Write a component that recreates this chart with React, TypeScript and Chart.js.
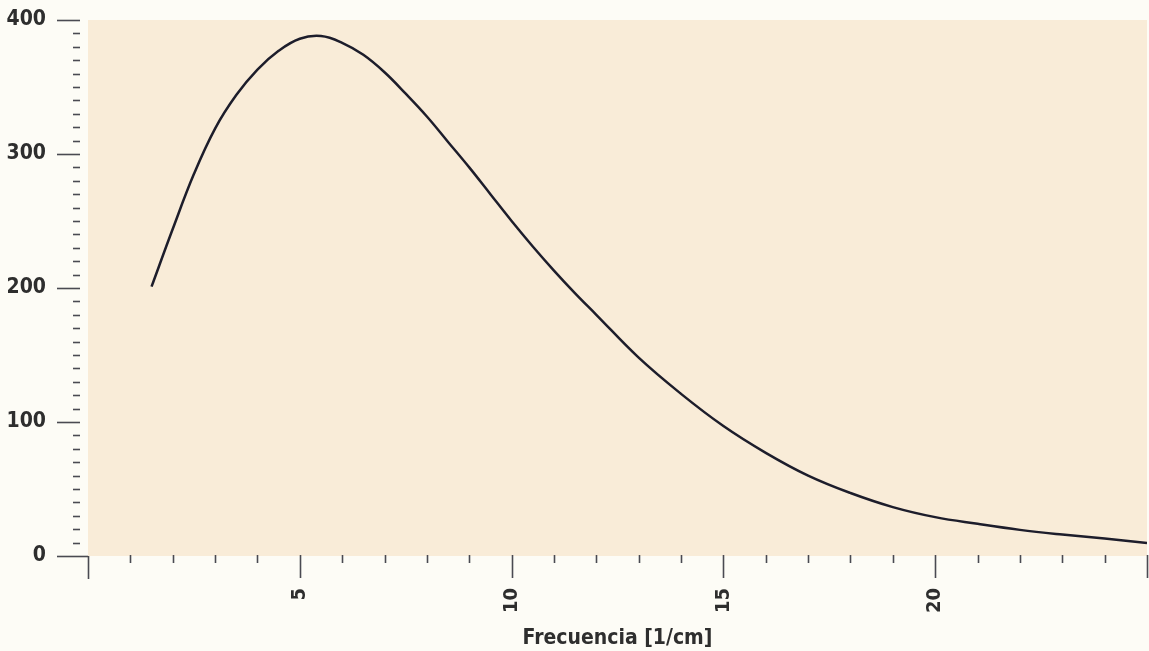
import React, { useEffect, useRef } from "react";
import { Chart, registerables } from "chart.js";

Chart.register(...registerables);

const frequencies = [1.5, 2, 2.5, 3, 3.5, 4, 4.5, 5, 5.5, 6, 6.5, 7, 7.5, 8, 8.5, 9, 9.5, 10, 10.5, 11, 11.5, 12, 13, 14, 15, 16, 17, 18, 19, 20, 21, 22, 23, 24, 25];
const amplitudes = [201, 244, 285, 319, 344, 363, 377, 386, 388, 383, 374, 361, 345, 328, 309, 290, 270, 250, 231, 213, 196, 180, 148, 121, 97, 77, 60, 47, 36.5, 29, 24, 19.5, 16, 13, 9.7];
const xLabelTicks = [5, 10, 15, 20];
const yLabelTicks = [0, 100, 200, 300, 400];
const xTitle = "Frecuencia [1/cm]";

const FONT = '"DejaVu Sans Condensed", "Liberation Sans Narrow", "Roboto", sans-serif';

const decorPlugin = {
  id: "decor",
  beforeDraw(chart: any) {
    const { ctx, chartArea } = chart;
    ctx.save();
    ctx.fillStyle = "#fdfcf6";
    ctx.fillRect(0, 0, chart.width, chart.height);
    ctx.fillStyle = "#f9ecd8";
    ctx.fillRect(chartArea.left, chartArea.top, chartArea.right - chartArea.left, chartArea.bottom - chartArea.top);
    ctx.restore();
  },
  afterDraw(chart: any) {
    const { ctx, chartArea } = chart;
    const xs = chart.scales.x;
    const ys = chart.scales.y;
    ctx.save();
    ctx.strokeStyle = "#4a4a52";
    ctx.lineCap = "butt";
    ctx.lineWidth = 1.6;
    ys.ticks.forEach((t: any) => {
      const y = Math.round(ys.getPixelForValue(t.value)) + 0.5;
      const major = t.value % 100 === 0;
      ctx.beginPath();
      if (t.value === 0) {
        ctx.moveTo(chartArea.left - 31, y);
        ctx.lineTo(chartArea.left, y);
      } else if (major) {
        ctx.moveTo(chartArea.left - 31, y);
        ctx.lineTo(chartArea.left - 8, y);
      } else {
        ctx.moveTo(chartArea.left - 15, y);
        ctx.lineTo(chartArea.left - 8, y);
      }
      ctx.stroke();
    });
    xs.ticks.forEach((t: any) => {
      const x = Math.round(xs.getPixelForValue(t.value)) + 0.5;
      const major = t.value % 5 === 0;
      ctx.beginPath();
      if (t.value === 0) {
        ctx.moveTo(x, chartArea.bottom);
        ctx.lineTo(x, chartArea.bottom + 23);
      } else if (major) {
        ctx.moveTo(x, chartArea.bottom - 1);
        ctx.lineTo(x, chartArea.bottom + 22);
      } else {
        ctx.moveTo(x, chartArea.bottom - 1);
        ctx.lineTo(x, chartArea.bottom + 7);
      }
      ctx.stroke();
    });
    ctx.restore();
  },
};

export default function App() {
  const ref = useRef<HTMLCanvasElement | null>(null);
  useEffect(() => {
    if (!ref.current) return;
    const chart = new Chart(ref.current, {
      type: "line",
      data: {
        datasets: [
          {
            data: frequencies.map((f, i) => ({ x: f, y: amplitudes[i] })),
            borderColor: "#1d1d2b",
            borderWidth: 2.5,
            pointRadius: 0,
            fill: false,
            tension: 0.4,
          },
        ],
      },
      options: {
        animation: false,
        responsive: false,
        maintainAspectRatio: false,
        layout: { padding: { left: 0, right: 2, top: 20, bottom: 0 } },
        plugins: { legend: { display: false }, tooltip: { enabled: false } },
        scales: {
          x: {
            type: "linear",
            min: 0,
            max: 25,
            grid: { display: false, drawTicks: false },
            border: { display: false },
            ticks: {
              stepSize: 1,
              autoSkip: false,
              minRotation: 90,
              maxRotation: 90,
              padding: 32,
              color: "#2e2e2e",
              font: { family: FONT, size: 20, weight: "bold" },
              callback: (v: any) => (xLabelTicks.includes(Number(v)) ? String(v) : ""),
            },
            title: {
              display: true,
              text: xTitle,
              color: "#2e2e2e",
              font: { family: FONT, size: 21, weight: "bold" },
              padding: { top: 0, bottom: 0 },
            },
            afterFit: (s: any) => {
              s.height = 95;
              s.paddingLeft = 0;
              s.paddingRight = 0;
            },
          },
          y: {
            type: "linear",
            min: 0,
            max: 400,
            grid: { display: false, drawTicks: false },
            border: { display: false },
            ticks: {
              stepSize: 10,
              autoSkip: false,
              padding: 42,
              color: "#2e2e2e",
              font: { family: FONT, size: 21, weight: "bold" },
              callback: (v: any) => (yLabelTicks.includes(Number(v)) ? String(v) : ""),
            },
            afterFit: (s: any) => {
              s.width = 88;
              s.paddingTop = 0;
              s.paddingBottom = 0;
            },
          },
        },
      },
      plugins: [decorPlugin],
    });
    return () => chart.destroy();
  }, []);
  return (
    <div style={{ position: "fixed", left: 0, top: 0, width: 1149, height: 651 }}>
      <canvas ref={ref} width={1149} height={651} style={{ display: "block" }} />
    </div>
  );
}
